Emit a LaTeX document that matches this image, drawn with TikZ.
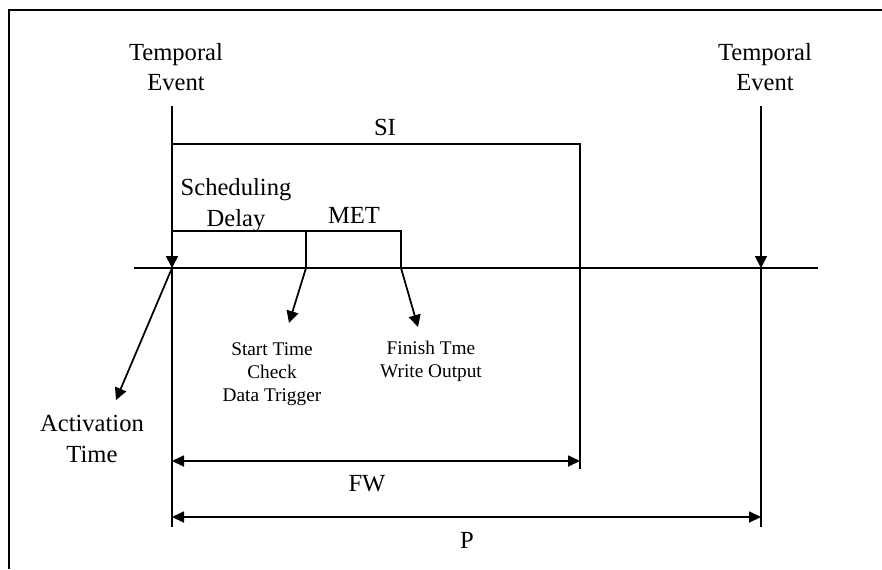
\documentclass[tikz,border=0pt]{standalone}
\usepackage{fontspec}
\setmainfont{Liberation Serif}
\usetikzlibrary{arrows.meta}
\tikzset{
  lbl/.style={font=\fontsize{14}{17.5}\selectfont, align=center, inner sep=0pt},
  note/.style={font=\fontsize{11}{13}\selectfont, align=center, inner sep=0pt},
  fine/.style={line width=0.7pt},
  tip/.style={-{Triangle[length=2.4mm,width=2.4mm]}, line width=1pt},
  span/.style={{Triangle[length=2.4mm,width=2.2mm]}-{Triangle[length=2.4mm,width=2.2mm]}, line width=1pt}
}

\begin{document}
\begin{tikzpicture}[x=0.02cm,y=-0.02cm]
		%%%%% START %%%%%
		\useasboundingbox (0,0) rectangle (882,569);
		\draw[fine] (9,569) -- (9,10) -- (882,10);

		% time axis
		\coordinate (ax0) at (134,268);
		\coordinate (ax1) at (818,268);
		\coordinate (act0) at (172,268);
		\coordinate (beg) at (306,268);
		\coordinate (fin) at (401,268);
		\coordinate (nxt) at (761,268);
		\draw[line width=1.3pt] (ax0) -- (ax1);

		% temporal events
		\node[lbl] (te1) at (176,67) {Temporal\\Event};
		\node[lbl] (te2) at (765,67) {Temporal\\Event};
		\coordinate (te1a) at (172,106);
		\coordinate (te2a) at (761,106);
		\coordinate (te1b) at (172,527);
		\coordinate (te2b) at (761,527);
		\draw[tip] (te1a) -- (act0);
		\draw[tip] (te2a) -- (nxt);
		\draw[fine] (act0) -- (te1b);
		\draw[fine] (nxt) -- (te2b);

		% SI
		\node[lbl] (si) at (385,127) {SI};
		\coordinate (si0) at (172,144);
		\coordinate (si1) at (580,144);
		\coordinate (si2) at (580,469);
		\draw[fine] (si0) -- (si1) -- (si2);

		% scheduling delay and MET
		\node[lbl] (sd) at (236,205) {Scheduling\\Delay};
		\node[lbl] (met) at (354,215) {MET};
		\coordinate (sd0) at (172,231);
		\coordinate (sd1) at (306,231);
		\coordinate (met1) at (401,231);
		\draw[fine] (sd0) -- (sd1) -- (beg);
		\draw[fine] (sd1) -- (met1) -- (fin);

		% pointers below the axis
		\coordinate (acttip) at (116,400);
		\coordinate (begtip) at (289,323);
		\coordinate (fintip) at (418,327);
		\draw[tip] (act0) -- (acttip);
		\draw[tip] (beg) -- (begtip);
		\draw[tip] (fin) -- (fintip);
		\node[lbl] (act) at (92,439) {Activation\\Time};
		\node[note] (start) at (272,374) {Start Time\\Check\\Data Trigger};
		\node[note] (finish) at (431,361) {Finish Tme\\Write Output};

		% FW and P
		\coordinate (fw0) at (172,461);
		\coordinate (fw1) at (580,461);
		\coordinate (p0) at (172,517);
		\coordinate (p1) at (761,517);
		\draw[span] (fw0) -- (fw1);
		\draw[span] (p0) -- (p1);
		\node[lbl] (fw) at (367,484) {FW};
		\node[lbl] (p) at (467,540) {P};
		%%%%% END %%%%%
\end{tikzpicture}
\end{document}
